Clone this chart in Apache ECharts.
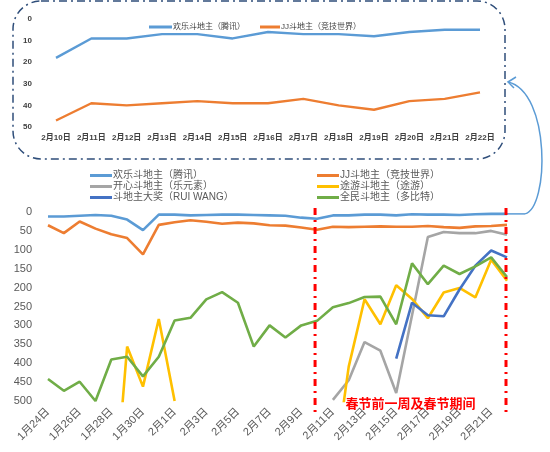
<!DOCTYPE html>
<html><head><meta charset="utf-8">
<script src="https://cdn.jsdelivr.net/npm/echarts@6/dist/echarts.min.js"></script>
<style>html,body{margin:0;padding:0;background:#fff}#c{width:550px;height:452px}</style>
</head><body><div id="c"></div>
<script>
const dates = ['1月24日','1月25日','1月26日','1月27日','1月28日','1月29日','1月30日','1月31日',
  '2月1日','2月2日','2月3日','2月4日','2月5日','2月6日','2月7日','2月8日','2月9日','2月10日',
  '2月11日','2月12日','2月13日','2月14日','2月15日','2月16日','2月17日','2月18日','2月19日',
  '2月20日','2月21日','2月22日'];
const insetDates = ['2月10日','2月11日','2月12日','2月13日','2月14日','2月15日','2月16日','2月17日','2月18日','2月19日','2月20日','2月21日','2月22日'];
const mainTicks = [0,50,100,150,200,250,300,350,400,450,500];
const insetTicks = [0,10,20,30,40,50];

const huanle  = [12,12,10,8,10,20,48,7,7,9,8,7,7,8,9,10,15,18,9,9,7,7,9,6,7,7,8,6,5,5];
const jj      = [35,56,25,44,59,69,112,34,27,22,26,31,28,30,35,36,41,47,39,40,39,38,39,39,37,40,42,38,37,34];
const kaixin  = [null,null,null,null,null,null,null,null,null,null,null,null,null,null,null,null,null,null,
                 497,445,344,367,479,273,66,53,56,56,50,60];
const tuyou   = [null,null,null,null,870,356,462,283,500,null,null,null,null,null,null,null,null,null,
                 710,409,231,297,194,230,281,213,201,226,126,182];
const dajiang = [null,null,null,null,null,null,null,null,null,null,null,null,null,null,null,null,null,null,
                 null,null,null,null,388,240,273,276,205,142,102,120];
const quanmin = [442,473,449,500,390,383,435,383,287,280,231,212,240,356,300,332,300,288,252,241,225,224,297,136,191,142,164,144,120,172];

const insetHuanle = huanle.slice(17);
const insetJJ = jj.slice(17);

const names = ['欢乐斗地主（腾讯）','JJ斗地主（竞技世界）','开心斗地主（乐元素）','途游斗地主（途游）','斗地主大奖（RUI WANG）','全民斗地主（多比特）'];
const colors = ['#5B9BD5','#ED7D31','#A5A5A5','#FFC000','#4472C4','#70AD47'];
const mainData = [huanle, jj, kaixin, tuyou, dajiang, quanmin];

const FF = "'Liberation Sans','Noto Sans CJK SC',sans-serif";
const chart = echarts.init(document.getElementById('c'));

const series = mainData.map((d,i)=>({
  name: names[i], type:'line', data:d, xAxisIndex:0, yAxisIndex:0,
  symbol:'none', lineStyle:{width:2.6,color:colors[i]}, itemStyle:{color:colors[i]},
  clip:true, animation:false
}));
series.push({name:names[0],type:'line',data:insetHuanle,xAxisIndex:1,yAxisIndex:1,symbol:'none',
  lineStyle:{width:2.4,color:colors[0]},itemStyle:{color:colors[0]},animation:false});
series.push({name:names[1],type:'line',data:insetJJ,xAxisIndex:1,yAxisIndex:1,symbol:'none',
  lineStyle:{width:2.4,color:colors[1]},itemStyle:{color:colors[1]},animation:false});

const legCommon = {orient:'vertical', itemWidth:22, itemHeight:3, itemGap:0, icon:'rect',
  textStyle:{fontSize:10,color:'#595959',fontFamily:FF,lineHeight:11,padding:[0,0,0,-4]}, selectedMode:false, padding:0};

chart.setOption({
  animation:false,
  textStyle:{fontFamily:FF},
  legend:[
    Object.assign({}, legCommon, {left:90, top:170, data:[names[0],names[2],names[4]]}),
    Object.assign({}, legCommon, {left:317, top:170, data:[names[1],names[3],names[5]]}),
    {left:149, top:23, itemWidth:23, itemHeight:3, icon:'rect', padding:0, selectedMode:false,
      textStyle:{fontSize:8,color:'#404040',padding:[0,0,0,-4]}, data:[names[0]]},
    {left:260, top:23, itemWidth:20, itemHeight:3, icon:'rect', padding:0, selectedMode:false,
      textStyle:{fontSize:8,color:'#404040',padding:[0,0,0,-4]}, data:[names[1]]}
  ],
  grid:[
    {left:48, right:43, top:212, height:189, containLabel:false},
    {left:56, right:70, top:19, height:108, containLabel:false}
  ],
  xAxis:[
    {type:'category', gridIndex:0, data:dates, boundaryGap:false, position:'bottom',
      axisLine:{show:false,onZero:false}, axisTick:{show:false},
      axisLabel:{interval:1, rotate:45, fontSize:11, color:'#595959', margin:9, fontFamily:FF}},
    {type:'category', gridIndex:1, data:insetDates, boundaryGap:false, position:'bottom',
      axisLine:{show:false,onZero:false}, axisTick:{show:false},
      axisLabel:{interval:0, fontSize:8, fontWeight:'bold', color:'#404040', margin:7, fontFamily:FF}}
  ],
  yAxis:[
    {type:'value', gridIndex:0, inverse:true, min:mainTicks[0], max:mainTicks[mainTicks.length-1], interval:50,
      splitLine:{show:false}, axisLine:{show:false}, axisTick:{show:false},
      axisLabel:{fontSize:11, color:'#595959', margin:16, fontFamily:FF}},
    {type:'value', gridIndex:1, inverse:true, min:insetTicks[0], max:insetTicks[insetTicks.length-1], interval:10,
      splitLine:{show:false}, axisLine:{show:false}, axisTick:{show:false},
      axisLabel:{fontSize:8, fontWeight:'bold', color:'#404040', margin:24, fontFamily:FF}}
  ],
  series: series
});

// annotations positioned from the chart's own scales
const pL = chart.convertToPixel({xAxisIndex:0,yAxisIndex:0}, ['2月10日', 0]);
const pR = chart.convertToPixel({xAxisIndex:0,yAxisIndex:0}, ['2月22日', 0]);
const pEnd = chart.convertToPixel({xAxisIndex:0,yAxisIndex:0}, ['2月22日', huanle[huanle.length-1]]);
const pBot = chart.convertToPixel({xAxisIndex:0,yAxisIndex:0}, ['2月22日', 500]);
const redStyle = {stroke:'#FF0000', lineWidth:3, lineDash:[7,5,2,5]};
const lx = pL[0]-2, rx = pR[0]-1;
const ex = pEnd[0], ey = pEnd[1];
const blueStroke = {stroke:'#5B9BD5',lineWidth:1.5,fill:'none'};
chart.setOption({
  graphic:[
    {type:'rect', shape:{x:13,y:1,width:492,height:158,r:28}, style:{fill:'none',stroke:'#2F4E7A',lineWidth:1.5,lineDash:[8,4,2,4]}, z:1},
    {type:'line', shape:{x1:lx,y1:pL[1]-4,x2:lx,y2:pBot[1]+11}, style:redStyle, z:10},
    {type:'line', shape:{x1:rx,y1:pR[1]-4,x2:rx,y2:pBot[1]+11}, style:redStyle, z:10},
    {type:'text', x:(lx+rx)/2, y:pBot[1]+2, style:{text:'春节前一周及春节期间', fill:'#FF0000', font:"bold 13px 'Noto Sans CJK SC',sans-serif", textAlign:'center', textVerticalAlign:'middle'}, z:10},
    {type:'line', shape:{x1:ex,y1:ey,x2:ex+18,y2:ey}, style:blueStroke, z:5},
    {type:'bezierCurve', shape:{x1:ex+18,y1:ey,cpx1:ex+42,cpy1:ey-6,cpx2:ex+44,cpy2:92,x2:508,y2:82}, style:blueStroke, z:5},
    {type:'polyline', shape:{points:[[516,77],[508,82],[514,88]]}, style:blueStroke, z:5}
  ]
});
</script></body></html>
